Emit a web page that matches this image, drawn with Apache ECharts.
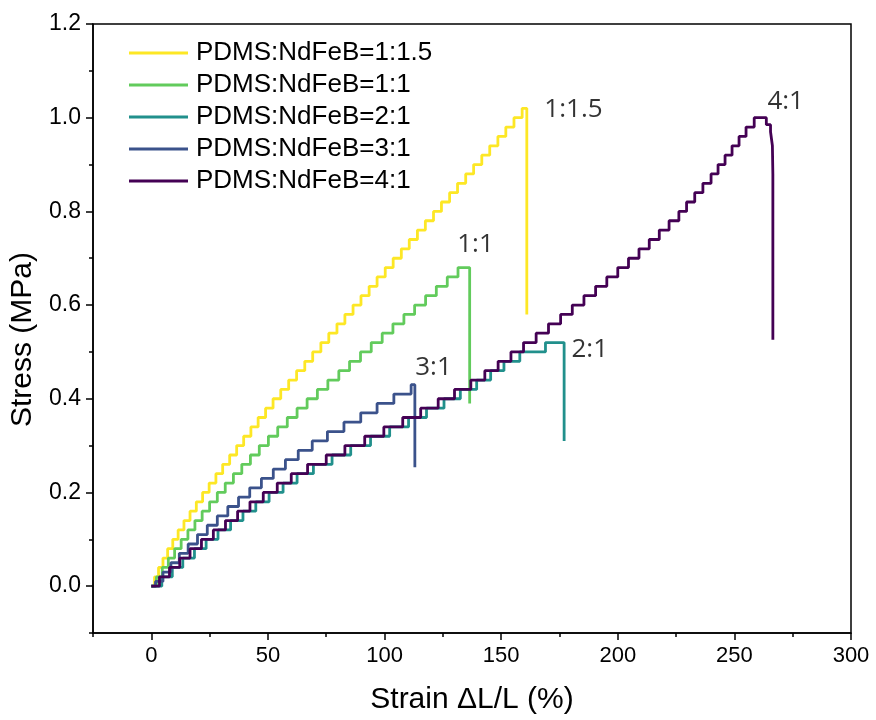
<!DOCTYPE html>
<html>
<head>
<meta charset="utf-8">
<script src="https://cdn.jsdelivr.net/npm/echarts@6/dist/echarts.min.js"></script>
<style>
html,body{margin:0;padding:0;background:#fff;}
#chart{width:876px;height:720px;}
</style>
</head>
<body>
<div id="chart"></div>
<script>
// ---- Data ----
const seriesNames = ['PDMS:NdFeB=1:1.5','PDMS:NdFeB=1:1','PDMS:NdFeB=2:1','PDMS:NdFeB=3:1','PDMS:NdFeB=4:1'];

// 1:1.5 (yellow)
const strainA = [0,1.4,3.1,5,7,9.2,11.5,14,16.6,19.3,22,24.8,27.7,30.6,33.6,36.6,39.6,42.7,45.8,49,52.2,55.5,58.9,62.3,65.8,69.2,72.7,76.1,79.6,83,86.5,89.9,93.4,96.8,100.3,103.7,107.2,110.6,114.1,117.5,121,124.4,127.9,131.3,134.8,138.2,141.7,145.1,148.6,152,155.5,159,161,161];
const stressA = [0,0.02,0.04,0.06,0.08,0.10,0.12,0.14,0.16,0.18,0.20,0.22,0.24,0.26,0.28,0.30,0.32,0.34,0.36,0.38,0.40,0.42,0.44,0.46,0.48,0.50,0.52,0.54,0.56,0.58,0.60,0.62,0.64,0.66,0.68,0.70,0.72,0.74,0.76,0.78,0.80,0.82,0.84,0.86,0.88,0.90,0.92,0.94,0.96,0.98,1.00,1.02,1.02,0.58];

// 1:1 (green)
const strainB = [0,2.2,4.7,7.3,10,12.8,15.7,18.7,21.8,25,28.3,31.7,35.2,38.8,42.5,46.3,50.2,54.2,58.3,62.5,66.8,71.2,75.7,80.4,85,89.7,94.3,99,103.6,108.3,112.9,117.6,122.2,126.9,131.5,136.5,136.5];
const stressB = [0,0.02,0.04,0.06,0.08,0.10,0.12,0.14,0.16,0.18,0.20,0.22,0.24,0.26,0.28,0.30,0.32,0.34,0.36,0.38,0.40,0.42,0.44,0.46,0.48,0.50,0.52,0.54,0.56,0.58,0.60,0.62,0.64,0.66,0.68,0.68,0.39];

// 2:1 (teal)
const strainC = [0,4.5,9,13.5,18.5,23.5,28.6,34,39.3,44.8,50.5,56.5,62.5,69.5,77.5,85.5,94,102.2,110.3,118,125.5,132.5,139.5,145.5,151.2,158,169,177,177];
const stressC = [0,0.02,0.04,0.06,0.08,0.10,0.12,0.14,0.16,0.18,0.20,0.22,0.24,0.26,0.28,0.30,0.32,0.34,0.36,0.38,0.40,0.42,0.44,0.46,0.48,0.50,0.52,0.52,0.31];

// 3:1 (blue)
const strainD = [0,1.8,5,8.4,12,15.8,19.8,24,28.3,32.8,37.4,42.2,47.2,52.3,57.5,63,69,75.5,82.6,89.8,96.8,104,111.4,113,113];
const stressD = [0,0.01,0.03,0.05,0.07,0.09,0.11,0.13,0.15,0.17,0.19,0.21,0.23,0.25,0.27,0.29,0.31,0.33,0.35,0.37,0.39,0.41,0.43,0.43,0.254];

// 4:1 (purple)
const strainE = [0,3.5,7.8,12.2,16.6,21.5,26.6,31.8,37,42.3,48,54,60,67,75,83,91.5,99.7,107.8,115.5,123,130,137,143,148.7,154.2,159.6,165,170.3,175.5,180.5,185.5,190.5,195.3,200,204.6,209.1,213.5,217.8,222,226.2,229.5,233,236.5,240,243,246,249,252,255,258.5,263.7,265.5,266.3,266.5,266.5];
const stressE = [0,0.02,0.04,0.06,0.08,0.10,0.12,0.14,0.16,0.18,0.20,0.22,0.24,0.26,0.28,0.30,0.32,0.34,0.36,0.38,0.40,0.42,0.44,0.46,0.48,0.50,0.52,0.54,0.56,0.58,0.60,0.62,0.64,0.66,0.68,0.70,0.72,0.74,0.76,0.78,0.80,0.82,0.84,0.86,0.88,0.90,0.92,0.94,0.96,0.98,1.00,0.985,0.97,0.94,0.88,0.526];

// Axis ticks
const xTicks = [0,50,100,150,200,250,300];
const xMinorTicks = [-25,25,75,125,175,225,275];
const yTicks = [0,0.2,0.4,0.6,0.8,1.0,1.2];
const yMinorTicks = [-0.1,0.1,0.3,0.5,0.7,0.9,1.1];

// Curve annotations: text and anchor (strain, stress)
const annText = ['1:1.5','1:1','2:1','3:1','4:1'];
const annStrain = [181,139,188,121,272];
const annStress = [1.017,0.729,0.505,0.467,1.034];

// ---- Chart ----
const colors = ['#FDE725','#62CB5C','#21908C','#3B528B','#440154'];
const xs = [strainA,strainB,strainC,strainD,strainE];
const ys = [stressA,stressB,stressC,stressD,stressE];
const font = "'Liberation Sans', Arial, sans-serif";

const lineSeries = seriesNames.map((name,i)=>({
  name: name,
  type: 'line',
  step: 'end',
  symbol: 'none',
  showSymbol: false,
  data: xs[i].map((x,j)=>[x, ys[i][j]]),
  lineStyle: {color: colors[i], width: 2.8},
  itemStyle: {color: colors[i]},
  z: 2 + i
}));

const annSeries = {
  type: 'scatter',
  symbolSize: 1,
  itemStyle: {color: 'rgba(0,0,0,0)'},
  silent: true,
  z: 10,
  data: annText.map((t,i)=>({name: t, value: [annStrain[i], annStress[i]]})),
  label: {
    show: true, position: 'inside', formatter: '{b}',
    fontFamily: "'Open Sans', sans-serif", fontSize: 26, color: '#000'
  }
};

const chart = echarts.init(document.getElementById('chart'), null, {renderer: 'canvas'});
chart.setOption({
  animation: false,
  backgroundColor: '#fff',
  grid: {left: 93, right: 25, top: 24, bottom: 86, show: true, borderColor: '#000', borderWidth: 1.5, backgroundColor: 'transparent'},
  legend: {
    data: seriesNames.map(n => ({name: n, icon: 'rect'})),
    orient: 'vertical',
    left: 129, top: 40,
    itemWidth: 59, itemHeight: 3, itemGap: 6,
    padding: 0,
    textStyle: {fontFamily: font, fontSize: 26, color: '#000', lineHeight: 26, padding: [0,0,0,3]}
  },
  xAxis: [{
    type: 'value', min: -25, max: 300, interval: 25,
    name: 'Strain \u0394L/L (%)', nameLocation: 'middle', nameGap: 52,
    nameTextStyle: {fontFamily: font, fontSize: 30, color: '#000'},
    axisLine: {show: true, onZero: false, lineStyle: {color: '#000', width: 1.5}},
    axisTick: {show: true, customValues: xTicks, length: 7, lineStyle: {color: '#000', width: 1.5}},
    axisLabel: {customValues: xTicks, fontFamily: font, fontSize: 22, color: '#000', margin: 12},
    splitLine: {show: false}
  },{
    type: 'value', min: -25, max: 300, interval: 25, position: 'bottom',
    axisLine: {show: false, onZero: false},
    axisTick: {show: true, customValues: xMinorTicks, length: 4, lineStyle: {color: '#000', width: 1.5}},
    axisLabel: {show: false},
    splitLine: {show: false}
  }],
  yAxis: [{
    type: 'value', min: -0.1, max: 1.2, interval: 0.1,
    name: 'Stress (MPa)', nameLocation: 'middle', nameGap: 52,
    nameTextStyle: {fontFamily: font, fontSize: 30, color: '#000', padding: [0, 22, 0, 0]},
    axisLine: {show: true, onZero: false, lineStyle: {color: '#000', width: 1.5}},
    axisTick: {show: true, customValues: yTicks, length: 7, lineStyle: {color: '#000', width: 1.5}},
    axisLabel: {customValues: yTicks, fontFamily: font, fontSize: 23, color: '#000', margin: 12,
      formatter: v => Number(v).toFixed(1)},
    splitLine: {show: false}
  },{
    type: 'value', min: -0.1, max: 1.2, interval: 0.1, position: 'left',
    axisLine: {show: false, onZero: false},
    axisTick: {show: true, customValues: yMinorTicks, length: 4, lineStyle: {color: '#000', width: 1.5}},
    axisLabel: {show: false},
    splitLine: {show: false}
  }],
  series: lineSeries.concat([annSeries])
});
</script>
</body>
</html>
